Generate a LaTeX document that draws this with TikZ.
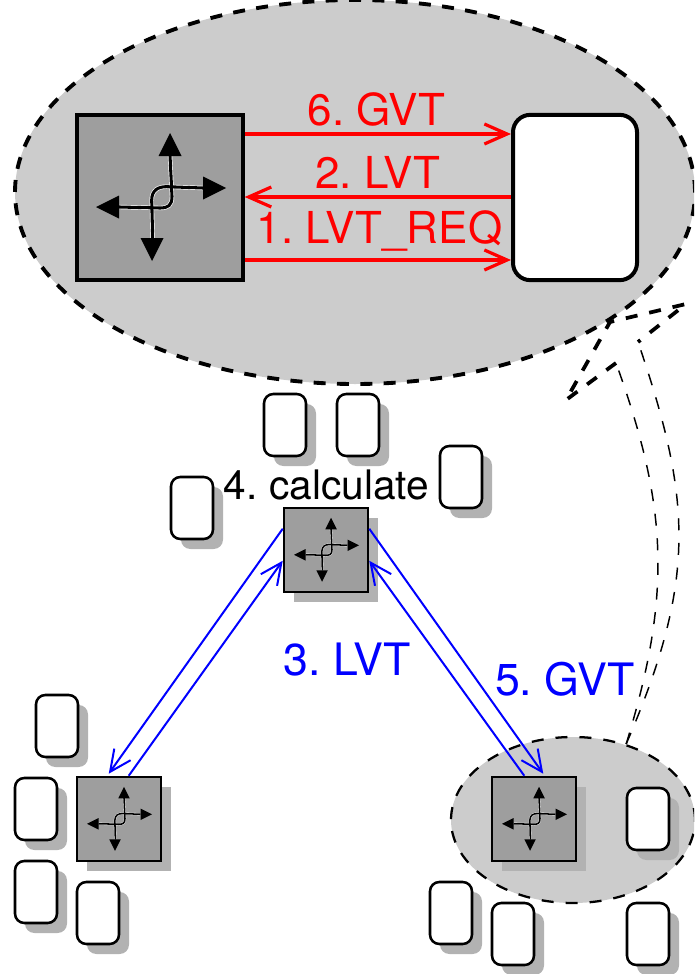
\documentclass[tikz,border=0pt]{standalone}
\usepackage{fontspec}
\setmainfont{TeX Gyre Heros}
\usetikzlibrary{shapes.geometric,arrows.meta,calc}
\definecolor{elgray}{gray}{0.8}
\definecolor{boxgray}{gray}{0.62}
\definecolor{shadowgray}{gray}{0.7}
\tikzset{
  x=0.75pt,y=-0.75pt,
  tilebox/.style={draw=black,line width=1.9pt,fill=white,rounded corners=7pt,minimum width=31.5pt,minimum height=46.5pt,inner sep=0pt,
    preaction={draw=none,fill=shadowgray,transform canvas={xshift=7.5pt,yshift=-7.5pt}}},
  routerbox/.style={draw=black,line width=1.9pt,fill=boxgray,minimum width=63pt,minimum height=63pt,inner sep=0pt,
    preaction={draw=none,fill=shadowgray,transform canvas={xshift=7.5pt,yshift=-7.5pt}}},
  bigrouter/.style={draw=black,line width=3pt,fill=boxgray,minimum width=124pt,minimum height=124pt,inner sep=0pt},
  bigtile/.style={draw=black,line width=3pt,fill=white,rounded corners=13pt,minimum width=93pt,minimum height=124pt,inner sep=0pt},
  redarrow/.style={draw=red,line width=2.9pt,-{Straight Barb[length=17pt,width=15pt,line width=2.4pt]}},
  bluearrow/.style={draw=blue,line width=1.5pt,-{Straight Barb[length=16pt,width=15pt,line width=1.5pt]}},
  lab/.style={inner sep=0pt,anchor=base},
  redlab/.style={lab,text=red,font=\fontsize{33pt}{33pt}\selectfont},
  bluelab/.style={lab,text=blue,font=\fontsize{33.5pt}{34pt}\selectfont},
  blacklab/.style={lab,font=\fontsize{30.5pt}{31pt}\selectfont},
  headline/.style={draw=black,line width=2.8pt,dash pattern=on 9pt off 9pt},
  shaftline/.style={draw=black,line width=1.1pt,dash pattern=on 9pt off 9.5pt},
}
\newcommand{\routericon}[3]{%
 \begin{scope}[shift={(#1,#2)}]
  \foreach \w/\c in {3.3/white,2.3/black}{
   \draw[\c,line width=#3*\w pt] (#3*10,-#3*42) -- (#3*12,-#3*1) .. controls (#3*12,#3*8) and (#3*8,#3*10.5) .. (#3*0,#3*10.5) -- (-#3*41,#3*9.5);
   \draw[\c,line width=#3*\w pt] (#3*43,-#3*9.5) -- (#3*6.7,-#3*10.8) .. controls (-#3*2,-#3*11) and (-#3*8.3,-#3*7) .. (-#3*8.3,#3*2.5) -- (-#3*7.3,#3*41);
  }
  \fill (#3*10,-#3*64.5) -- (#3*21.5,-#3*41.5) -- (-#3*1.5,-#3*41.5) -- cycle;
  \fill (#3*66,-#3*9.5) -- (#3*43,#3*2) -- (#3*43,-#3*21) -- cycle;
  \fill (-#3*64,#3*9.5) -- (-#3*41,-#3*2) -- (-#3*41,#3*21) -- cycle;
  \fill (-#3*8,#3*63.5) -- (-#3*19.5,#3*40.5) -- (#3*3.5,#3*40.5) -- cycle;
 \end{scope}}
\begin{document}
\begin{tikzpicture}
\frenchspacing
\useasboundingbox (0,0) rectangle (694,974);
\begin{scope}
\clip (0,0) rectangle (694,974);
\node[ellipse,draw=black,fill=elgray,line width=2.9pt,dash pattern=on 9pt off 8.5pt,minimum width=510pt,minimum height=288pt,inner sep=0pt] (big) at (355,192) {};
\node[ellipse,draw=black,fill=elgray,line width=1.7pt,dash pattern=on 9pt off 9pt,minimum width=183pt,minimum height=124.5pt,inner sep=0pt] (small) at (573,820) {};
\end{scope}
% big router & tile
\node[bigrouter] (R) at (160,197.5) {};
\node[bigtile] (T) at (575,197.5) {};
\routericon{160}{197.5}{1}
% small routers
\node[routerbox] (rc) at (326,550) {};
\node[routerbox] (rl) at (119,819) {};
\node[routerbox] (rr) at (534,819) {};
\routericon{326}{550}{0.5}
\routericon{119}{819}{0.5}
\routericon{534}{819}{0.5}
% tiles
\foreach \n/\x/\y in {a/285/425,b/358/425,c/461/477,d/192/508,e/57/726,f/36/809,g/36/892,h/98/913,i/451/913,j/513/934,k/648/934,l/648/819}
  \node[tilebox] (t\n) at (\x,\y) {};
% red arrows
\draw[redarrow] (R.east |- 0,134) -- (T.west |- 0,134);
\draw[redarrow] (T.west |- 0,197) -- (R.east |- 0,197);
\draw[redarrow] (R.east |- 0,260) -- (T.west |- 0,260);
% blue arrows
\draw[bluearrow] ($(rc.north west)+(0,22)$) -- ($(rl.north west)+(33,-2)$);
\draw[bluearrow] ($(rl.north west)+(53,0)$) -- ($(rc.north west)+(0,54)$);
\draw[bluearrow] ($(rc.north east)+(0,22)$) -- ($(rr.north east)+(-34,-2)$);
\draw[bluearrow] ($(rr.north east)+(-53,0)$) -- ($(rc.north east)+(0,54)$);
% labels
\node[redlab] (l6) at (376.5,125) {6. GVT};
\node[redlab] (l2) at (378,188) {2. LVT};
\node[redlab] (l1) at (379.5,243) {1. LVT\_REQ};
\node[blacklab] (l4) at (326.5,499) {4. calculate};
\node[bluelab] (l3) at (347.5,675) {3. LVT};
\node[bluelab] (l5) at (565,695) {5. GVT};
% hollow dashed arrow
\coordinate (s) at (small.55);
\coordinate (h1) at (616,363);
\coordinate (h2) at (566,400);
\coordinate (h3) at (610,322);
\coordinate (h4) at (686,304);
\coordinate (h5) at (638,342);
\draw[headline] (h1) -- (h2) -- (h3) -- (h4) -- (h5);
\draw[shaftline] (s) .. controls (672,594) and (668,507) .. (h1);
\draw[shaftline] (s) .. controls (697,580) and (692,500) .. (h5);
\end{tikzpicture}
\end{document}
